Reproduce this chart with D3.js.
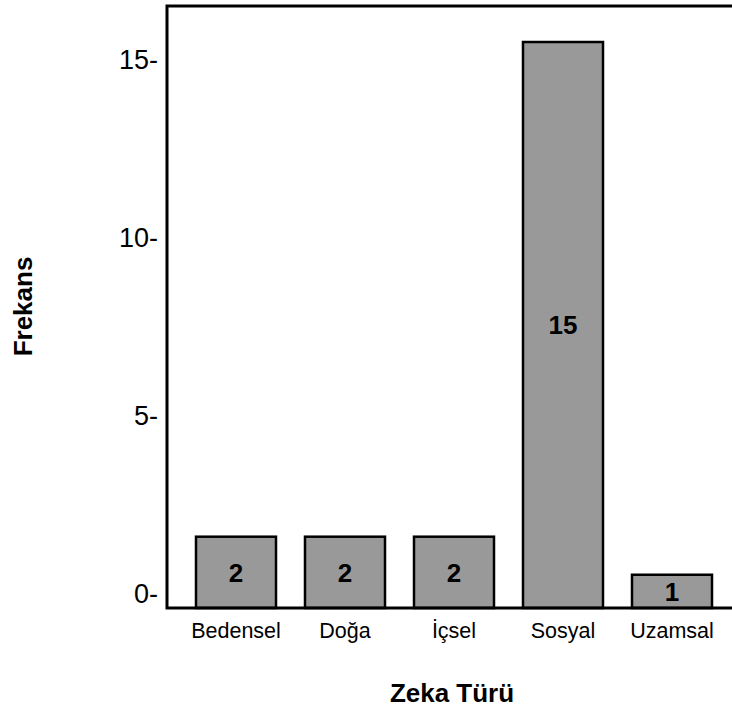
<!DOCTYPE html>
<html>
<head>
<meta charset="utf-8">
<script src="https://cdn.jsdelivr.net/npm/d3@7"></script>
<style>
  html, body { margin: 0; padding: 0; background: #fff; }
  svg { display: block; font-family: Arial, "Liberation Sans", sans-serif; }
</style>
</head>
<body>
<svg id="chart" width="732" height="711"></svg>
<script>
// ---- data ----
const categories = ["Bedensel", "Doğa", "İçsel", "Sosyal", "Uzamsal"];
const counts = [2, 2, 2, 15, 1];
const yTicks = [0, 5, 10, 15];
const xTitle = "Zeka Türü";
const yTitle = "Frekans";

// ---- layout ----
const W = 732, H = 711;
const axisX = 167, axisTop = 6, baseY = 608;

const svg = d3.select("#chart");

const x = d3.scaleBand()
  .domain(categories)
  .range([181.5, 726.5])
  .paddingInner(0.266)
  .paddingOuter(0.133);

// scale used for tick labels on the axis
const yAxisScale = d3.scaleLinear().domain([0, 15]).range([593.4, 59.3]);
// scale used for bar heights (as drawn in the reference)
const yBar = d3.scaleLinear().domain([0, 15]).range([612.8, 42]);

// bars
svg.append("g").selectAll("rect")
  .data(categories.map((c, i) => ({ c, v: counts[i] })))
  .join("rect")
  .attr("x", d => x(d.c))
  .attr("y", d => yBar(d.v))
  .attr("width", x.bandwidth())
  .attr("height", d => baseY - yBar(d.v))
  .attr("fill", "#999999")
  .attr("stroke", "#000")
  .attr("stroke-width", 2.5);

// bar value labels
svg.append("g").selectAll("text")
  .data(categories.map((c, i) => ({ c, v: counts[i] })))
  .join("text")
  .attr("x", d => x(d.c) + x.bandwidth() / 2)
  .attr("y", d => (yBar(d.v) + baseY) / 2)
  .attr("dy", "0.36em")
  .attr("text-anchor", "middle")
  .attr("font-weight", "bold")
  .attr("font-size", 26)
  .text(d => d.v);

// frame lines
svg.append("path")
  .attr("d", `M${W},${axisTop}H${axisX}V${baseY}H${W}`)
  .attr("fill", "none")
  .attr("stroke", "#000")
  .attr("stroke-width", 3);

// y tick labels (SPSS style "15-")
svg.append("g").selectAll("text")
  .data(yTicks)
  .join("text")
  .attr("x", 158)
  .attr("y", d => yAxisScale(d))
  .attr("dy", "0.36em")
  .attr("text-anchor", "end")
  .attr("font-size", 27)
  .text(d => d + "-");

// x category labels
svg.append("g").selectAll("text")
  .data(categories)
  .join("text")
  .attr("x", d => x(d) + x.bandwidth() / 2)
  .attr("y", 638)
  .attr("text-anchor", "middle")
  .attr("font-size", 21.5)
  .text(d => d);

// axis titles
svg.append("text")
  .attr("x", 452)
  .attr("y", 702)
  .attr("text-anchor", "middle")
  .attr("font-weight", "bold")
  .attr("font-size", 26)
  .text(xTitle);

svg.append("text")
  .attr("transform", "translate(32,306.5) rotate(-90)")
  .attr("text-anchor", "middle")
  .attr("font-weight", "bold")
  .attr("font-size", 26)
  .text(yTitle);
</script>
</body>
</html>
